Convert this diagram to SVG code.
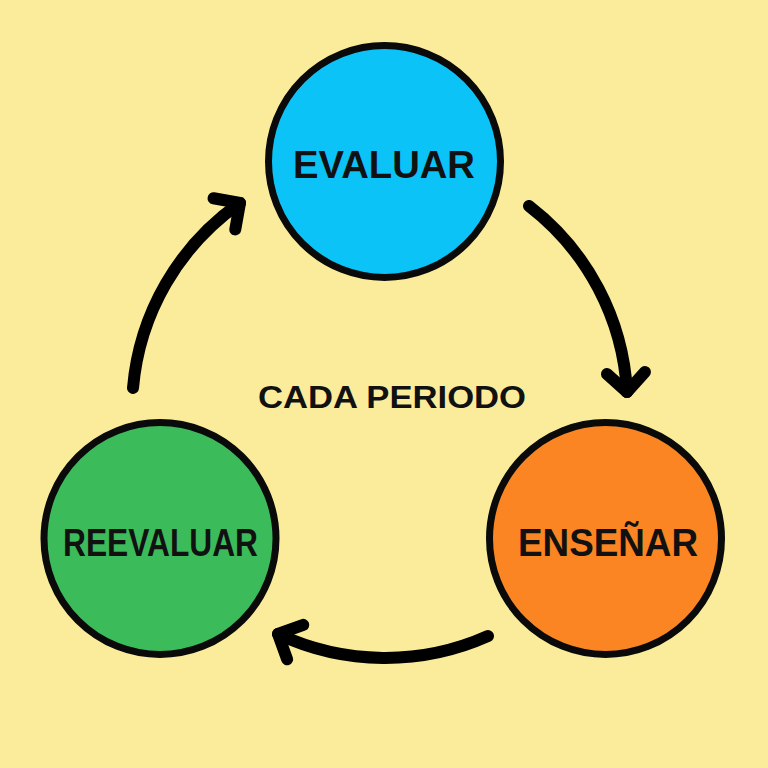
<svg xmlns="http://www.w3.org/2000/svg" width="768" height="768" viewBox="0 0 768 768">
<style>
.node circle{stroke:#0a0a0a;stroke-width:7}
.lbl{font-family:"Liberation Sans","DejaVu Sans",sans-serif;font-weight:bold;fill:#111;text-anchor:middle}
.arc{fill:none;stroke:#000;stroke-width:12;stroke-linecap:round;marker-end:url(#ah)}
</style>
<defs>
<marker id="ah" markerUnits="userSpaceOnUse" markerWidth="60" markerHeight="60" viewBox="-30 -30 60 60" refX="0" refY="0" orient="auto" overflow="visible">
<path d="M -19 -19 L 0 0 L -19 19" fill="none" stroke="#000" stroke-width="12" stroke-linecap="round" stroke-linejoin="round"/>
</marker>
</defs>
<rect width="768" height="768" fill="#fbec9b"/>
<g id="connectors">
<path class="arc" d="M 133 388 A 252 252 0 0 1 240 203"/>
<path class="arc" d="M 529 206 A 252 252 0 0 1 627 392"/>
<path class="arc" d="M 488 636 A 252 252 0 0 1 278 634"/>
</g>
<g id="evaluar" class="node">
<circle cx="384.5" cy="161.5" r="116" fill="#0bc3f6"/>
<text class="lbl" x="384" y="178" font-size="39" textLength="182" lengthAdjust="spacingAndGlyphs">EVALUAR</text>
</g>
<g id="ensenar" class="node">
<circle cx="605.5" cy="538.5" r="116" fill="#fa8522"/>
<text class="lbl" x="608" y="556" font-size="39" textLength="180" lengthAdjust="spacingAndGlyphs">ENSEÑAR</text>
</g>
<g id="reevaluar" class="node">
<circle cx="160" cy="538.5" r="116" fill="#3cbb5b"/>
<text class="lbl" x="160.5" y="556" font-size="39" textLength="195" lengthAdjust="spacingAndGlyphs">REEVALUAR</text>
</g>
<g id="center-label">
<text class="lbl" x="392" y="408" font-size="32" textLength="268" lengthAdjust="spacingAndGlyphs">CADA PERIODO</text>
</g>
</svg>
